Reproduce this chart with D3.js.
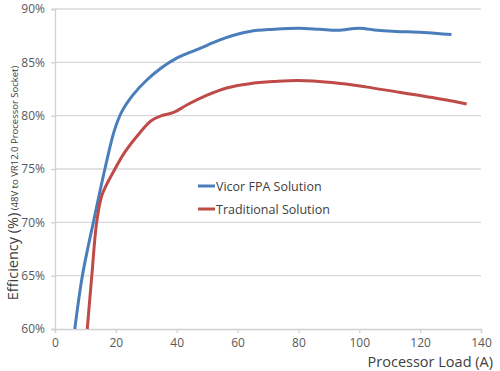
<!DOCTYPE html>
<html><head><meta charset="utf-8">
<script src="https://cdn.jsdelivr.net/npm/d3@7"></script>
<style>body{margin:0;background:#fff}svg{display:block}</style>
</head><body>
<svg id="c" width="500" height="371"></svg>
<script>
const seriesNames = ["Vicor FPA Solution", "Traditional Solution"];
const seriesColors = ["#4a7ebb", "#be4b48"];
const vicorLoad = [6.5,9,12.6,16.4,19.5,22,25.5,30,35,40,45,50,56,64,72,80,87,93,100,106,112,121,130.3];
const vicorEff  = [60,65,70,75,78.6,80.4,81.9,83.3,84.5,85.4,86.0,86.6,87.3,87.9,88.1,88.2,88.1,88.0,88.2,88.0,87.9,87.8,87.6];
const tradLoad = [10.6,12.1,13.7,15.5,19.7,23,27.9,31.5,35,39,43.3,49.8,56.4,64,72,80,91,102,113,124,135.3];
const tradEff  = [60,65,70,72.6,75,76.6,78.4,79.5,80.0,80.3,81.0,81.9,82.6,83.0,83.2,83.3,83.1,82.7,82.2,81.7,81.1];
const xTicks = [0,20,40,60,80,100,120,140];
const yTicks = [60,65,70,75,80,85,90];

const svg = d3.select("#c");
const x = d3.scaleLinear().domain([0,140]).range([55,481]);
const y = d3.scaleLinear().domain([60,90]).range([329,9]);
const font = "'Open Sans', sans-serif";

// gridlines
svg.append("g").selectAll("line").data(yTicks.filter(d=>d>60)).join("line")
  .attr("x1",x(0)).attr("x2",x(140)).attr("y1",d=>y(d)).attr("y2",d=>y(d))
  .attr("stroke","#d9d9d9").attr("stroke-width",1.3);

// axes
const xAxis = svg.append("g").attr("transform",`translate(0,${y(60)})`)
  .call(d3.axisBottom(x).tickValues(xTicks).tickSize(4).tickPadding(5));
const yAxis = svg.append("g").attr("transform",`translate(${x(0)},0)`)
  .call(d3.axisLeft(y).tickValues(yTicks).tickSize(4).tickPadding(6).tickFormat(d=>d+"%"));
[xAxis,yAxis].forEach(a=>{
  a.selectAll("path,line").attr("stroke","#d0d0d0").attr("stroke-width",1.3);
  a.selectAll("text").attr("fill","#595959").style("font-family",font).style("font-size","12px");
});

// lines
const line = d3.line().x(d=>x(d[0])).y(d=>y(d[1])).curve(d3.curveCatmullRom.alpha(0.5));
const series = [
  d3.zip(vicorLoad, vicorEff),
  d3.zip(tradLoad, tradEff)
];
svg.append("g").selectAll("path").data(series).join("path")
  .attr("d",line).attr("fill","none")
  .attr("stroke",(d,i)=>seriesColors[i]).attr("stroke-width",3)
  .attr("stroke-linejoin","round");

// legend
const lg = svg.append("g");
seriesNames.forEach((n,i)=>{
  const yy = 186 + i*23;
  lg.append("line").attr("x1",198).attr("x2",215).attr("y1",yy).attr("y2",yy)
    .attr("stroke",seriesColors[i]).attr("stroke-width",3);
  lg.append("text").attr("x",216).attr("y",yy+4.5).text(n)
    .attr("fill","#404040").style("font-family",font).style("font-size","12.5px");
});

// axis titles
svg.append("text").attr("x",493).attr("y",367).attr("text-anchor","end")
  .text("Processor Load (A)").attr("fill","#404040")
  .style("font-family",font).style("font-size","14.5px");

const yt = svg.append("text").attr("transform","translate(18,183) rotate(-90)")
  .attr("text-anchor","middle").attr("fill","#404040").style("font-family",font);
yt.append("tspan").text("Efficiency (%)").style("font-size","14.5px");
yt.append("tspan").text(" (48V to VR12.0 Processor Socket)").style("font-size","9.5px");
</script>
</body></html>
